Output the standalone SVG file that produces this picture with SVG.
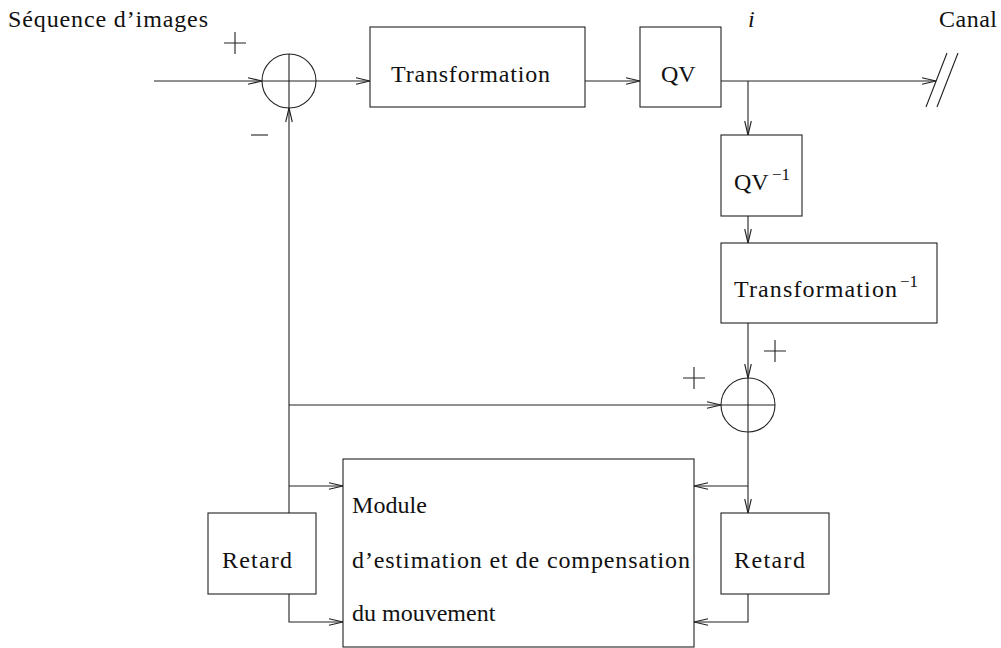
<svg xmlns="http://www.w3.org/2000/svg" width="1001" height="648" viewBox="0 0 1001 648">
<style>
.b{fill:#fff;stroke:#222;stroke-width:1.1}
.c{fill:none;stroke:#222;stroke-width:1.1}
</style>
<defs>
<marker id="a" markerUnits="userSpaceOnUse" markerWidth="20" markerHeight="10" viewBox="-15 -5 16 10" refX="0" refY="0" orient="auto">
<path d="M-14,-3.3 L0,0 L-14,3.3" fill="none" stroke="#222" stroke-width="1.1"/>
</marker>
</defs>
<rect width="1001" height="648" fill="#fff"/>
<g id="connectors" class="c">
<path d="M154,81 H262" marker-end="url(#a)"/>
<path d="M316,81 H370" marker-end="url(#a)"/>
<path d="M585,81 H640" marker-end="url(#a)"/>
<path d="M721,81 H936" marker-end="url(#a)"/>
<path d="M748,81 V135" marker-end="url(#a)"/>
<path d="M748,216 V243" marker-end="url(#a)"/>
<path d="M748,323 V378" marker-end="url(#a)"/>
<path d="M748,432 V513" marker-end="url(#a)"/>
<path d="M748,486 H694" marker-end="url(#a)"/>
<path d="M748,594 V622 H694" marker-end="url(#a)"/>
<path d="M289,513 V108" marker-end="url(#a)"/>
<path d="M289,405 H721" marker-end="url(#a)"/>
<path d="M289,486 H343" marker-end="url(#a)"/>
<path d="M289,594 V622 H343" marker-end="url(#a)"/>
<path d="M926,107 L947,53 M937,107 L958,53"/>
</g>
<g id="sum1">
<circle class="c" cx="289" cy="81" r="27"/>
<path class="c" d="M262,81 H316 M289,54 V108"/>
</g>
<g id="sum2">
<circle class="c" cx="748" cy="405" r="27"/>
<path class="c" d="M721,405 H775 M748,378 V432"/>
</g>
<g id="signs" class="c">
<path d="M224,43 H246 M235,32 V54"/>
<path d="M251,135 H268"/>
<path d="M764,351 H786 M775,340 V362"/>
<path d="M683,378 H705 M694,367 V389"/>
</g>
<g font-family="Liberation Serif, DejaVu Serif, serif" font-size="24" fill="#111">
<g id="labels">
<text x="8" y="27" textLength="200" lengthAdjust="spacing">Séquence d’images</text>
<text x="939" y="27" textLength="58" lengthAdjust="spacing">Canal</text>
<text x="748" y="27" font-style="italic">i</text>
</g>
<g id="transformation">
<rect class="b" x="370" y="27" width="215" height="80"/>
<text x="391" y="82" textLength="159" lengthAdjust="spacing">Transformation</text>
</g>
<g id="qv">
<rect class="b" x="640" y="27" width="81" height="80"/>
<text x="661" y="82">QV</text>
</g>
<g id="qv-inv">
<rect class="b" x="721" y="135" width="81" height="81"/>
<text x="734" y="190">QV</text>
<text font-size="17" x="772" y="180">−1</text>
</g>
<g id="transformation-inv">
<rect class="b" x="721" y="243" width="216" height="80"/>
<text x="734" y="297" textLength="163" lengthAdjust="spacing">Transformation</text>
<text font-size="17" x="900" y="287">−1</text>
</g>
<g id="module">
<rect class="b" x="343" y="459" width="351" height="188"/>
<text x="352" y="513" textLength="75" lengthAdjust="spacing">Module</text>
<text x="352" y="568" textLength="338" lengthAdjust="spacing">d’estimation et de compensation</text>
<text x="352" y="621">du mouvement</text>
</g>
<g id="retard-left">
<rect class="b" x="208" y="513" width="108" height="81"/>
<text x="222" y="568" textLength="70" lengthAdjust="spacing">Retard</text>
</g>
<g id="retard-right">
<rect class="b" x="721" y="513" width="108" height="81"/>
<text x="734" y="568" textLength="71" lengthAdjust="spacing">Retard</text>
</g>
</g>
</svg>
